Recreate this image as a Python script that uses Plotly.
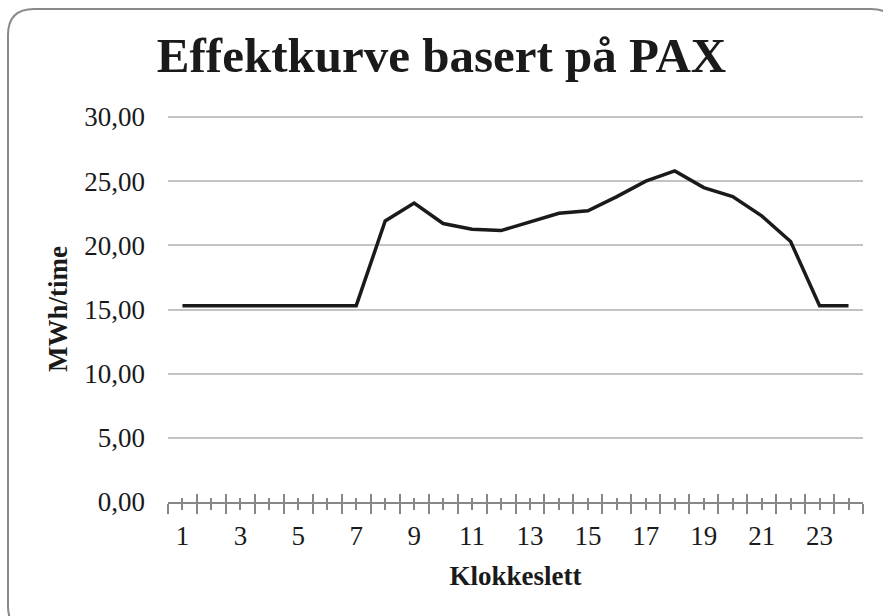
import plotly.graph_objects as go

hours = list(range(1, 25))
mwh = [15.3, 15.3, 15.3, 15.3, 15.3, 15.3, 15.3, 21.9, 23.3, 21.7, 21.25, 21.15,
       21.8, 22.5, 22.7, 23.8, 25.0, 25.8, 24.5, 23.8, 22.3, 20.3, 15.3, 15.3]
y_ticks = [0, 5, 10, 15, 20, 25, 30]
y_labels = ["0,00", "5,00", "10,00", "15,00", "20,00", "25,00", "30,00"]
x_labels = [str(h) if h % 2 == 1 else "" for h in hours]
boundaries = [h - 0.5 for h in hours] + [24.5]

title_text = "Effektkurve basert på PAX"
x_title = "Klokkeslett"
y_title = "MWh/time"

W, H = 883, 616
L, R, T, B = 168, 20, 116, 114
PW, PH = W - L - R, H - T - B

def px(x):
    return (x - L) / PW

def py(y):
    return (H - B - y) / PH

SERIF = "Liberation Serif"
GRAY = "#878787"

fig = go.Figure()
fig.add_trace(go.Scatter(x=hours, y=mwh, mode="lines",
                         line=dict(color="#1a1a1a", width=3.5),
                         hoverinfo="x+y", showlegend=False))
fig.add_trace(go.Scatter(x=hours, y=mwh, mode="lines", xaxis="x2",
                         line=dict(width=0), opacity=0,
                         hoverinfo="skip", showlegend=False))

# rounded chart border
x0, y0, x1, y1, rr = 8, 9, 897, 632, 26
path = (f"M {px(x0)},{py(y0 + rr)} Q {px(x0)},{py(y0)} {px(x0 + rr)},{py(y0)} "
        f"L {px(x1 - rr)},{py(y0)} Q {px(x1)},{py(y0)} {px(x1)},{py(y0 + rr)} "
        f"L {px(x1)},{py(y1 - rr)} Q {px(x1)},{py(y1)} {px(x1 - rr)},{py(y1)} "
        f"L {px(x0 + rr)},{py(y1)} Q {px(x0)},{py(y1)} {px(x0)},{py(y1 - rr)} Z")
fig.add_shape(type="path", path=path, xref="paper", yref="paper",
              line=dict(color="#8a8a8a", width=2), layer="below")

fig.update_layout(
    width=W, height=H,
    margin=dict(l=L, r=R, t=T, b=B),
    paper_bgcolor="white", plot_bgcolor="white",
    font=dict(family=SERIF, color="#1a1a1a", size=27),
    title=dict(text=f"<b>{title_text}</b>", x=px(515.5), xanchor="center",
               y=1 - 55 / H, yanchor="middle",
               font=dict(family=SERIF, size=49, color="#1a1a1a")),
    xaxis=dict(range=[0.5, 24.5], tickmode="array", tickvals=hours, ticktext=x_labels,
               ticks="outside", ticklen=6, tickwidth=1.5, tickcolor=GRAY,
               minor=dict(tickmode="array", tickvals=boundaries, ticks="outside",
                          ticklen=10, tickwidth=1.5, tickcolor=GRAY),
               showline=True, linecolor=GRAY, linewidth=1.5,
               showgrid=False, zeroline=False, ticklabelstandoff=3,
               tickfont=dict(family=SERIF, size=27, color="#1a1a1a"),
               title=dict(text=f"<b>{x_title}</b>", standoff=16,
                          font=dict(family=SERIF, size=27, color="#1a1a1a"))),
    xaxis2=dict(range=[0.5, 24.5], overlaying="x", anchor="y", side="bottom",
                tickmode="array", tickvals=hours, showticklabels=False,
                ticks="inside", ticklen=4, tickwidth=1.5, tickcolor=GRAY,
                minor=dict(tickmode="array", tickvals=boundaries, ticks="inside",
                           ticklen=8, tickwidth=1.5, tickcolor=GRAY),
                showgrid=False, zeroline=False, showline=False),
    yaxis=dict(range=[0, 30.08], tickmode="array", tickvals=y_ticks, ticktext=y_labels,
               showgrid=True, gridcolor="#c3c3c3", gridwidth=1.5,
               zeroline=False, showline=False, ticks="", ticklabelstandoff=22,
               tickfont=dict(family=SERIF, size=27, color="#1a1a1a"),
               title=dict(text=f"<b>{y_title}</b>", standoff=8,
                          font=dict(family=SERIF, size=27, color="#1a1a1a"))),
)

fig.write_html("out.html", config={"displayModeBar": False},
               post_script="document.body.style.margin='0';document.body.style.overflow='hidden';")
